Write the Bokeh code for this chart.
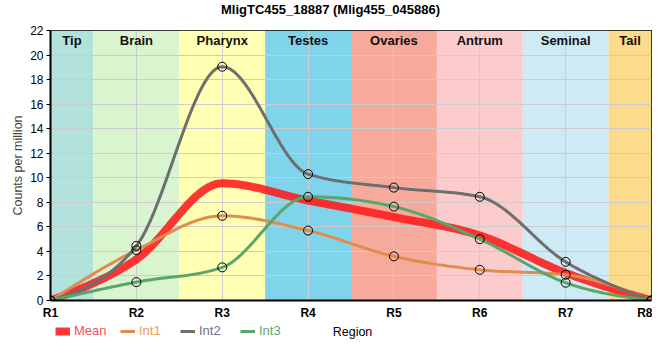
import numpy as np
from bokeh.plotting import figure
from bokeh.layouts import column
from bokeh.models import Legend, LegendItem, FixedTicker, Range1d, Label
from bokeh.core.properties import value
from bokeh.embed import file_html
from bokeh.resources import INLINE

# ---- data ----
title_text = "MligTC455_18887 (Mlig455_045886)"
regions = ["R1", "R2", "R3", "R4", "R5", "R6", "R7", "R8"]
positions = [1, 2, 3, 4, 5, 6, 7, 8]
mean = [0, 3.35, 9.55, 8.15, 6.8, 5.3, 2.25, 0]
int1 = [0, 4.1, 6.9, 5.7, 3.6, 2.5, 2.1, 0]
int2 = [0, 4.45, 19.05, 10.3, 9.2, 8.45, 3.15, 0]
int3 = [0, 1.5, 2.7, 8.45, 7.65, 5.0, 1.45, 0]

band_names = ["Tip", "Brain", "Pharynx", "Testes", "Ovaries", "Antrum", "Seminal", "Tail"]
band_left = [1, 1.5, 2.5, 3.5, 4.5, 5.5, 6.5, 7.5]
band_right = [1.5, 2.5, 3.5, 4.5, 5.5, 6.5, 7.5, 8]
band_colors = ["#b3e2dc", "#d8f5d0", "#ffffb3", "#7fd3eb", "#f5aa9c", "#fccccc", "#ceebf5", "#fddb8c"]

y_ticks = [0, 2, 4, 6, 8, 10, 12, 14, 16, 18, 20, 22]

series_names = ["Mean", "Int1", "Int2", "Int3"]
series_colors = ["#ff1a1a", "#e08c4c", "#6e6e6e", "#5aa66a"]
series_widths = [8, 3, 3, 3]
series_alphas = [0.88, 1, 1, 1]
legend_text_colors = ["#ff4a5a", "#ea9a62", "#6e7480", "#62a86e"]

FONT = "Liberation Sans"
W = 652


def monotone(xs, ys, n=40):
    xs = np.asarray(xs, float)
    ys = np.asarray(ys, float)
    m = len(xs)
    h = np.diff(xs)
    s = np.diff(ys) / h
    t = np.zeros(m)
    for i in range(1, m - 1):
        h0, h1 = h[i - 1], h[i]
        s0, s1 = s[i - 1], s[i]
        pp = (s0 * h1 + s1 * h0) / (h0 + h1)
        t[i] = (np.sign(s0) + np.sign(s1)) * min(abs(s0), abs(s1), 0.5 * abs(pp))
    t[0] = (3 * s[0] - t[1]) / 2
    t[-1] = (3 * s[-1] - t[-2]) / 2
    ox, oy = [], []
    for i in range(m - 1):
        u = np.linspace(0, 1, n, endpoint=(i == m - 2))
        h00 = 2 * u**3 - 3 * u**2 + 1
        h10 = u**3 - 2 * u**2 + u
        h01 = -2 * u**3 + 3 * u**2
        h11 = u**3 - u**2
        ox.extend(xs[i] + u * h[i])
        oy.extend(h00 * ys[i] + h10 * h[i] * t[i] + h01 * ys[i + 1] + h11 * h[i] * t[i + 1])
    return ox, oy


def strip(height):
    f = figure(width=W, height=height, output_backend="svg", toolbar_location=None,
               x_range=Range1d(0, 1), y_range=Range1d(0, 1),
               x_axis_location=None, y_axis_location=None,
               min_border_left=0, min_border_right=0, min_border_top=0, min_border_bottom=0)
    f.grid.visible = False
    f.outline_line_color = None
    return f


# title strip (its frame is aligned with the plot frame, which starts 50px in)
t = strip(18)
t.add_layout(Label(x=280, y=9, x_units="screen", y_units="screen", text=title_text,
                   text_align="center", text_baseline="middle", text_font=FONT,
                   text_font_size="13px", text_font_style="bold", text_color="black"))

p = figure(width=W, height=305, output_backend="svg", toolbar_location=None,
           x_range=Range1d(1, 8), y_range=Range1d(0, 22),
           min_border_left=50, min_border_right=1, min_border_top=12, min_border_bottom=23)

# bands
p.quad(left=band_left, right=band_right, bottom=0, top=22, fill_color=band_colors,
       line_color=None, level="image")
band_centers = [(a + b) / 2 for a, b in zip(band_left, band_right)]
p.text(x=band_centers, y=[22] * len(band_names), text=band_names, text_align="center",
       text_baseline="middle", y_offset=10, text_font=value(FONT), text_font_size="13px",
       text_font_style="bold", text_color="#111111")

# lines
all_series = [mean, int1, int2, int3]
for ser, col, lw, al in zip(all_series, series_colors, series_widths, series_alphas):
    sx, sy = monotone(positions, ser)
    p.line(sx, sy, line_color=col, line_width=lw, line_alpha=al)

for ser in (int1, int2, int3):
    p.scatter(positions, ser, marker="circle", size=9, fill_color=None,
              line_color="black", line_width=1)

# axes
p.xaxis.ticker = FixedTicker(ticks=positions)
p.xaxis.major_label_overrides = {pos: lab for pos, lab in zip(positions, regions)}
p.xaxis.major_label_text_font = FONT
p.xaxis.major_label_text_font_style = "bold"
p.xaxis.major_label_text_font_size = "12px"
p.xaxis.major_label_text_color = "black"
p.xaxis.major_tick_out = 0
p.xaxis.major_tick_in = 0
p.xaxis.minor_tick_line_color = None
p.xaxis.axis_line_width = 2
p.xaxis.axis_line_color = "black"
p.xaxis.major_label_standoff = 5

p.yaxis.ticker = FixedTicker(ticks=y_ticks)
p.yaxis.major_label_text_font = FONT
p.yaxis.major_label_text_font_size = "12px"
p.yaxis.major_label_text_color = "black"
p.yaxis.major_tick_out = 4
p.yaxis.major_tick_in = 0
p.yaxis.major_tick_line_color = "black"
p.yaxis.minor_tick_line_color = None
p.yaxis.axis_line_width = 2
p.yaxis.axis_line_color = "black"
p.yaxis.major_label_standoff = 3
p.yaxis.axis_label = "Counts per million"
p.yaxis.axis_label_text_font = FONT
p.yaxis.axis_label_text_font_style = "normal"
p.yaxis.axis_label_text_font_size = "12.5px"
p.yaxis.axis_label_standoff = 2

p.xgrid.ticker = FixedTicker(ticks=positions)
p.ygrid.ticker = FixedTicker(ticks=y_ticks)
p.grid.grid_line_color = "#cccccc"
p.grid.grid_line_width = 1

p.outline_line_color = "black"
p.outline_line_width = 1
p.background_fill_color = "white"

# legend row (with the x-axis title "Region")
q = strip(21)
legend_x = [5, 70, 130, 190]
for name, col, lw, al, tcol, lx in zip(series_names, series_colors, series_widths,
                                       series_alphas, legend_text_colors, legend_x):
    rend = q.line(x=[-1], y=[-1], line_color=col, line_width=lw, line_alpha=al)
    lg = Legend(items=[LegendItem(label=name, renderers=[rend])], location=(lx, 6),
                orientation="horizontal", background_fill_alpha=0, border_line_alpha=0,
                padding=0, margin=0, glyph_width=15, glyph_height=14, label_height=14,
                label_standoff=4, label_text_color=tcol, label_text_font_size="13px",
                label_text_font=FONT, label_text_baseline="middle")
    q.add_layout(lg, "center")
q.add_layout(Label(x=302, y=13, x_units="screen", y_units="screen", text="Region",
                   text_align="center", text_baseline="middle", text_font=FONT,
                   text_font_size="12.5px", text_color="black"))

layout = column(t, p, q, spacing=0)
open("out.html", "w").write(file_html(layout, INLINE))
